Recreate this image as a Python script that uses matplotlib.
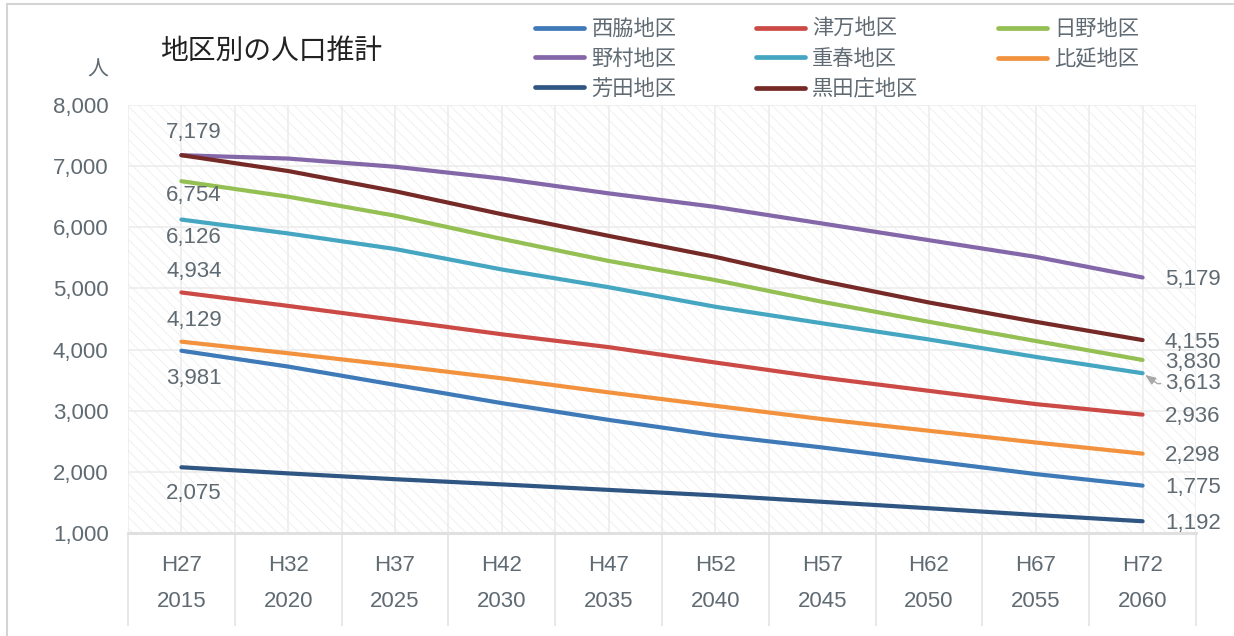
import matplotlib
matplotlib.use("Agg")
import matplotlib.pyplot as plt
from matplotlib.patches import Rectangle
from matplotlib.lines import Line2D
from matplotlib.ticker import FuncFormatter, FixedLocator, NullFormatter

plt.rcParams['font.family'] = ['Liberation Sans', 'Noto Sans CJK JP', 'DejaVu Sans']
plt.rcParams['hatch.linewidth'] = 0.6

# ---- data ----
era_labels = ["H27", "H32", "H37", "H42", "H47", "H52", "H57", "H62", "H67", "H72"]
year_labels = ["2015", "2020", "2025", "2030", "2035", "2040", "2045", "2050", "2055", "2060"]

nishiwaki = [3981, 3722, 3423, 3124, 2850, 2600, 2399, 2181, 1964, 1775]
tsuma = [4934, 4714, 4485, 4250, 4040, 3788, 3542, 3325, 3108, 2936]
hino = [6754, 6500, 6190, 5810, 5450, 5136, 4781, 4454, 4140, 3830]
nomura = [7179, 7124, 6990, 6797, 6555, 6333, 6062, 5789, 5516, 5179]
shigeharu = [6126, 5899, 5645, 5310, 5020, 4700, 4430, 4165, 3880, 3613]
hie = [4129, 3940, 3740, 3530, 3300, 3080, 2863, 2672, 2480, 2298]
yoshida = [2075, 1975, 1880, 1795, 1705, 1615, 1510, 1405, 1295, 1192]
kurodasho = [7179, 6920, 6590, 6214, 5860, 5516, 5120, 4770, 4454, 4155]

series_names = ["西脇地区", "津万地区", "日野地区", "野村地区", "重春地区", "比延地区", "芳田地区", "黒田庄地区"]
series_values = [nishiwaki, tsuma, hino, nomura, shigeharu, hie, yoshida, kurodasho]
series_colors = ["#3e79b8", "#cc4a45", "#94bf52", "#8467a8", "#45a6c2", "#f2923f", "#2f5683", "#762a27"]

# label offsets (points) for first-point labels; None = no label
start_offsets = [-20, 15, -10, 16, -13, 15, -19, None]
TXT = "#5f6a72"

fig = plt.figure(figsize=(12.34, 6.36), dpi=100)
ax = fig.add_axes([128/1234, 1-533/636, (1196-128)/1234, (533-105)/636])

# hatched background
bg = Rectangle((0, 0), 1, 1, transform=ax.transAxes, facecolor="white",
               edgecolor="#eeeeee", hatch="\\\\\\", lw=0, zorder=0)
ax.add_patch(bg)

x = list(range(len(era_labels)))
for name, vals, col in zip(series_names, series_values, series_colors):
    ax.plot(x, vals, color=col, lw=3.0, solid_capstyle="round",
            solid_joinstyle="round", label=name, zorder=3)

ax.set_xlim(-0.5, 9.5)
ax.set_ylim(1000, 8000)

# y axis
ax.set_yticks(range(1000, 8001, 1000))
ax.yaxis.set_major_formatter(FuncFormatter(lambda v, p: f"{int(v):,}"))
ax.tick_params(axis="y", length=0, pad=14, labelsize=16, labelcolor=TXT)

# x axis: boundaries as long major ticks, labels at centers (minor)
bounds = [i - 0.5 for i in range(len(era_labels) + 1)]
ax.xaxis.set_major_locator(FixedLocator(bounds))
ax.xaxis.set_major_formatter(NullFormatter())
ax.xaxis.set_minor_locator(FixedLocator(x))
ax.set_xticklabels([f"{e}\n{y}" for e, y in zip(era_labels, year_labels)], minor=True)
ax.tick_params(axis="x", which="major", length=67, width=1.2, color="#e4e4e4", direction="out")
ax.tick_params(axis="x", which="minor", length=0, pad=16, labelsize=16, labelcolor=TXT)
for lab in ax.get_xticklabels(minor=True):
    lab.set_linespacing(1.9)

# grid
for v in range(1000, 8001, 1000):
    ax.axhline(v, color="#ececec", lw=1.2, zorder=1)
for i in range(0, 21):
    ax.axvline(-0.5 + i * 0.5, color="#ececec", lw=1.2, zorder=1)

for s in ["top", "right", "left"]:
    ax.spines[s].set_visible(False)
ax.spines["bottom"].set_color("#e0e0e0")
ax.spines["bottom"].set_linewidth(2.2)
ax.spines["bottom"].set_zorder(2)

# data labels - start
for vals, off in zip(series_values, start_offsets):
    if off is None:
        continue
    ax.annotate(f"{vals[0]:,}", (x[0], vals[0]), xytext=(9, off), textcoords="offset points",
                ha="center", va="center", fontsize=16, color=TXT, zorder=4)

# data labels - end
for name, vals in zip(series_names, series_values):
    if name == "重春地区":
        ax.annotate(f"{vals[-1]:,}", (x[-1], vals[-1]), xytext=(16, -7.5), textcoords="offset points",
                    ha="left", va="center", fontsize=16, color=TXT, zorder=4,
                    arrowprops=dict(arrowstyle="-|>,head_length=0.4,head_width=0.15", color="#a8a8a8", lw=1,
                                    shrinkA=1, shrinkB=2,
                                    connectionstyle="angle,angleA=0,angleB=-35,rad=0"))
    else:
        ax.annotate(f"{vals[-1]:,}", (x[-1], vals[-1]), xytext=(16, -1.5), textcoords="offset points",
                    ha="left", va="center", fontsize=16, color=TXT, zorder=4)

# title and unit
fig.text(160/1234, 1-52/636, "地区別の人口推計", fontsize=20, color="#222222", ha="left", va="center")
fig.text(108/1234, 1-70/636, "人", fontsize=15, color=TXT, ha="right", va="center")

# legend (order fills column-wise to match row-wise reference layout)
order = [0, 3, 6, 1, 4, 7, 2, 5]
handles = [Line2D([0], [0], color=series_colors[i], lw=3.4, solid_capstyle="round") for i in order]
labels = [series_names[i] for i in order]
fig.legend(handles, labels, ncol=3, loc="upper left", frameon=False,
           bbox_to_anchor=(535/1234, 1-19/636), bbox_transform=fig.transFigure,
           borderpad=0, borderaxespad=0, fontsize=15.3, labelcolor=TXT,
           handlelength=2.3, handletextpad=0.35, columnspacing=3.75, labelspacing=0.47)

# figure border
fig.add_artist(Line2D([7/1234, 7/1234], [0, 1-4/636], transform=fig.transFigure, color="#d4d4d4", lw=1.5))
fig.add_artist(Line2D([7/1234, 1], [1-4/636, 1-4/636], transform=fig.transFigure, color="#d4d4d4", lw=1.5))

fig.savefig("out.png", dpi=100, facecolor="white")
